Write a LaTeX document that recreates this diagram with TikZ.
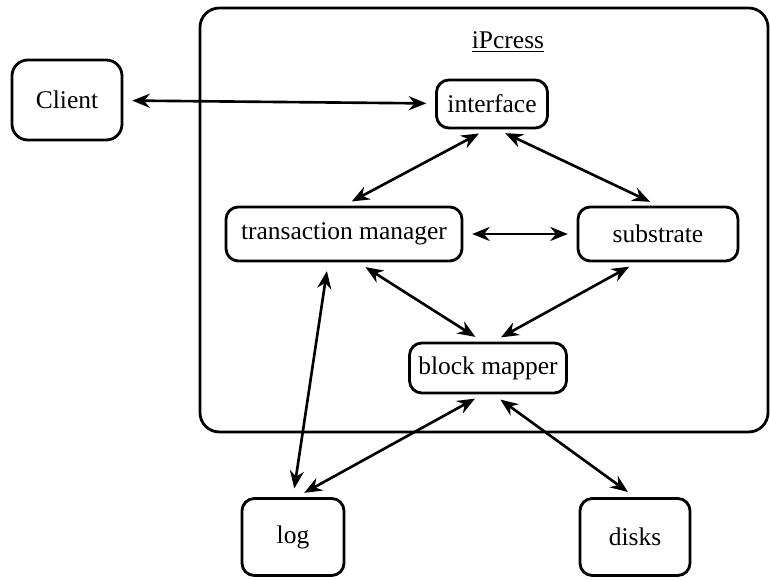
\documentclass[tikz,border=0pt]{standalone}
\usepackage{fontspec}
\setmainfont{Liberation Serif}
\usetikzlibrary{arrows.meta,positioning}

\begin{document}
\begin{tikzpicture}[
  font=\fontsize{14.5}{17}\selectfont,
  part/.style={draw, line width=1.6pt, rounded corners=7pt, inner sep=0pt},
  link/.style={line width=1.5pt, {Stealth[length=10pt,width=8pt]}-{Stealth[length=10pt,width=8pt]},
    shorten <=5pt, shorten >=5pt}
]
\useasboundingbox (0,0) rectangle (15.4,11.6);

% the server frame
\node[part, rounded corners=11pt, minimum width=11.36cm, minimum height=8.48cm] (frame) at (9.68,7.2) {};
\node (title) at (10.16,10.76) {\underline{iPcress}};

\node[part, rounded corners=9pt, minimum width=2.2cm, minimum height=1.6cm] (client) at (1.34,9.6) {Client};
\node[part, minimum width=2.22cm, minimum height=0.96cm] (interface) at (9.84,9.52) {interface};
\node[part, minimum width=4.72cm, minimum height=1.08cm] (tm) at (6.88,6.92) {transaction manager};
\node[part, minimum width=3.2cm, minimum height=1.08cm] (substrate) at (13.16,6.92) {substrate};
\node[part, minimum width=3.14cm, minimum height=1.0cm] (mapper) at (9.76,4.24) {block mapper};
\node[part, minimum width=2.04cm, minimum height=1.54cm] (log) at (5.86,0.86) {log};
\node[part, minimum width=2.2cm, minimum height=1.54cm] (disks) at (12.7,0.86) {disks};

\draw[link] (client) -- (interface);
\draw[link] ([xshift=-3pt]interface.south) -- (tm.north);
\draw[link] ([xshift=3pt]interface.south) -- (substrate.north);
\draw[link] (tm) -- (substrate);
\draw[link] ([xshift=8pt]tm.south) -- ([xshift=-3pt]mapper.north);
\draw[link] ([xshift=-12pt]substrate.south) -- ([xshift=3pt]mapper.north);
\draw[link] ([xshift=-9pt]tm.south) -- (log.north);
\draw[link] ([xshift=-3pt]mapper.south) -- ([xshift=2pt]log.north);
\draw[link] ([xshift=3pt]mapper.south) -- (disks.north);
\end{tikzpicture}
\end{document}
